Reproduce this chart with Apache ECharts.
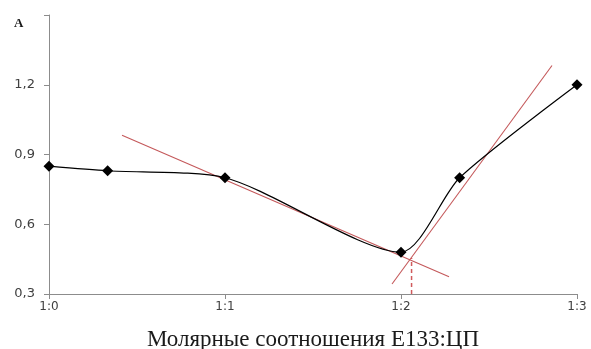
<!DOCTYPE html>
<html>
<head>
<meta charset="utf-8">
<script src="https://cdn.jsdelivr.net/npm/echarts@6/dist/echarts.min.js"></script>
<style>
html,body{margin:0;padding:0;background:#fff;overflow:hidden;}
#chart{width:591px;height:349px;}
</style>
</head>
<body>
<div id="chart"></div>
<script>
var xTickLabels = ['1:0', '1:1', '1:2', '1:3'];
var ratioX = [0, 0.333, 1, 2, 2.333, 3];
var absorbance = [0.85, 0.83, 0.80, 0.48, 0.80, 1.20];
var tangent1 = [[0.415, 0.983], [2.273, 0.374]];
var tangent2 = [[1.949, 0.343], [2.858, 1.283]];
var dropLine = [[2.06, 0.3], [2.06, 0.455]];
var yTicks = [0.3, 0.6, 0.9, 1.2];

var mainData = ratioX.map(function (x, i) { return [x, absorbance[i]]; });
var redColor = '#c4585a';

var chart = echarts.init(document.getElementById('chart'));
chart.setOption({
  animation: false,
  backgroundColor: '#ffffff',
  grid: { left: 49, right: 14, top: 15, bottom: 55, containLabel: false, outerBoundsMode: 'none' },
  xAxis: {
    type: 'value', min: 0, max: 3, interval: 1,
    axisLine: { lineStyle: { color: '#8c8c8c', width: 1 } },
    axisTick: { show: true, length: 5, lineStyle: { color: '#8c8c8c' } },
    splitLine: { show: false },
    axisLabel: {
      formatter: function (v) { return xTickLabels[Math.round(v)] || ''; },
      color: '#404040', fontFamily: 'DejaVu Sans', fontSize: 12, margin: 7
    },
    name: 'Молярные соотношения Е133:ЦП',
    nameLocation: 'middle', nameGap: 34,
    nameTextStyle: { fontFamily: 'Liberation Serif', fontSize: 23, color: '#1a1a1a' }
  },
  yAxis: {
    type: 'value', min: 0.3, max: 1.5, interval: 0.3,
    axisLine: { show: true, lineStyle: { color: '#8c8c8c', width: 1 } },
    axisTick: { show: true, length: 5, lineStyle: { color: '#8c8c8c' } },
    splitLine: { show: false },
    axisLabel: {
      formatter: function (v) {
        var r = Math.round(v * 10) / 10;
        return yTicks.indexOf(r) >= 0 ? r.toFixed(1).replace('.', ',') : '';
      },
      color: '#404040', fontFamily: 'DejaVu Sans', fontSize: 13, margin: 14
    }
  },
  graphic: [{
    type: 'text', left: 14, top: 17,
    style: { text: 'A', fontFamily: 'Liberation Serif', fontWeight: 'bold', fontSize: 13, fill: '#1a1a1a' }
  }],
  series: [
    {
      type: 'line', data: tangent1, symbol: 'none', silent: true,
      lineStyle: { color: redColor, width: 1.1 }, z: 1
    },
    {
      type: 'line', data: tangent2, symbol: 'none', silent: true,
      lineStyle: { color: redColor, width: 1.1 }, z: 1
    },
    {
      type: 'line', data: dropLine, symbol: 'none', silent: true,
      lineStyle: { color: '#d05a5c', width: 1.5, type: [4, 3] }, z: 1
    },
    {
      type: 'line', data: mainData, smooth: 0.25,
      symbol: 'diamond', symbolSize: 11,
      itemStyle: { color: '#000000' },
      lineStyle: { color: '#000000', width: 1.2 }, z: 3
    }
  ]
});
</script>
</body>
</html>
